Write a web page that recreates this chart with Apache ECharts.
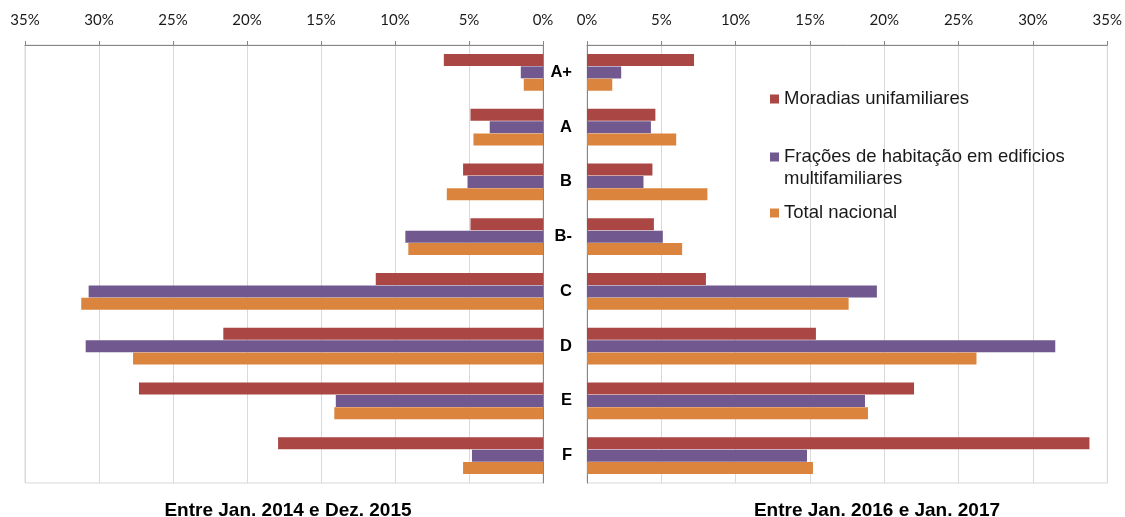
<!DOCTYPE html>
<html>
<head>
<meta charset="utf-8">
<script src="https://cdn.jsdelivr.net/npm/echarts@6/dist/echarts.min.js"></script>
<style>
  html, body { margin: 0; padding: 0; background: #ffffff; }
  #chart { width: 1125px; height: 517px; }
</style>
</head>
<body>
<div id="chart"></div>
<script>
// Energy classes (categories, top to bottom)
const categories = ['A+', 'A', 'B', 'B-', 'C', 'D', 'E', 'F'];

// Tick labels of the percentage axes
const tickValues = [0, 5, 10, 15, 20, 25, 30, 35];

// Series names
const seriesNames = [
  'Moradias unifamiliares',
  'Frações de habitação em edificios multifamiliares',
  'Total nacional'
];

// Period titles
const periodLeft = 'Entre Jan. 2014 e Dez. 2015';
const periodRight = 'Entre Jan. 2016 e Jan. 2017';

// Shares (%) between Jan. 2014 and Dec. 2015
const moradias2014 = [6.7, 4.9, 5.4, 4.9, 11.3, 21.6, 27.3, 17.9];
const fracoes2014  = [1.5, 3.6, 5.1, 9.3, 30.7, 30.9, 14.0, 4.8];
const total2014    = [1.3, 4.7, 6.5, 9.1, 31.2, 27.7, 14.1, 5.4];

// Shares (%) between Jan. 2016 and Jan. 2017
const moradias2016 = [7.2, 4.6, 4.4, 4.5, 8.0, 15.4, 22.0, 33.8];
const fracoes2016  = [2.3, 4.3, 3.8, 5.1, 19.5, 31.5, 18.7, 14.8];
const total2016    = [1.7, 6.0, 8.1, 6.4, 17.6, 26.2, 18.9, 15.2];

const colors = ['#AA4643', '#71588F', '#DB843D'];
const axisGray = '#868686';
const gridGray = '#D9D9D9';
const sansFont = '"Liberation Sans", Arial, sans-serif';

const chart = echarts.init(document.getElementById('chart'), null, { renderer: 'canvas' });

function valueAxis(gridIndex, inverse) {
  return {
    type: 'value',
    gridIndex: gridIndex,
    position: 'top',
    inverse: inverse,
    min: tickValues[0],
    max: tickValues[tickValues.length - 1],
    interval: 5,
    axisLine: { show: true, lineStyle: { color: axisGray, width: 1 } },
    axisTick: { show: true, length: 4, lineStyle: { color: axisGray } },
    splitLine: { show: true, lineStyle: { color: gridGray, width: 1 } },
    axisLabel: {
      formatter: '{value}%',
      color: '#1a1a1a',
      fontSize: 15,
      fontFamily: 'Lato, "Liberation Sans", sans-serif',
      margin: 17
    }
  };
}

function categoryAxis(gridIndex, position, showLabels) {
  return {
    type: 'category',
    gridIndex: gridIndex,
    position: position,
    inverse: true,
    data: categories,
    axisLine: { show: true, lineStyle: { color: axisGray, width: 1 } },
    axisTick: { show: false },
    splitLine: { show: false },
    axisLabel: {
      show: showLabels,
      color: '#000000',
      fontSize: 16.5,
      fontWeight: 'bold',
      fontFamily: sansFont,
      margin: 15
    }
  };
}

function barSeries(name, data, idx, gridIdx) {
  return {
    type: 'bar',
    name: name,
    data: data,
    xAxisIndex: gridIdx,
    yAxisIndex: gridIdx,
    barWidth: 12,
    barGap: '3%',
    itemStyle: { color: colors[idx] },
    emphasis: { disabled: true },
    animation: false
  };
}

const legendText = {
  color: '#1a1a1a',
  fontSize: 18.5,
  lineHeight: 22,
  fontFamily: sansFont
};

chart.setOption({
  backgroundColor: '#ffffff',
  animation: false,
  grid: [
    { left: 25, top: 45, width: 518, height: 438, show: true, borderColor: gridGray, borderWidth: 1 },
    { left: 587, top: 45, width: 522, height: 438, show: true, borderColor: gridGray, borderWidth: 1 }
  ],
  xAxis: [valueAxis(0, true), valueAxis(1, false)],
  yAxis: [categoryAxis(0, 'right', false), categoryAxis(1, 'left', true)],
  legend: [
    {
      data: [seriesNames[0]],
      left: 770, top: 88, padding: 0,
      itemWidth: 9, itemHeight: 9,
      icon: 'rect',
      textStyle: legendText,
      selectedMode: false
    },
    {
      data: [seriesNames[1]],
      left: 770, top: 146, padding: 0,
      // square aligned with the first text line
      icon: 'path://M0,0H10V10H0Z M0,34.4H0.01V34.41H0Z',
      itemWidth: 9, itemHeight: 31,
      formatter: function (name) { return name.replace(' multifamiliares', '\nmultifamiliares'); },
      textStyle: legendText,
      selectedMode: false
    },
    {
      data: [seriesNames[2]],
      left: 770, top: 202, padding: 0,
      itemWidth: 9, itemHeight: 9,
      icon: 'rect',
      textStyle: legendText,
      selectedMode: false
    }
  ],
  graphic: [
    {
      type: 'text', x: 288, y: 511,
      style: {
        text: periodLeft, textAlign: 'center', textVerticalAlign: 'middle',
        fontSize: 19, fontWeight: 'bold', fill: '#000000', fontFamily: sansFont
      }
    },
    {
      type: 'text', x: 877, y: 511,
      style: {
        text: periodRight, textAlign: 'center', textVerticalAlign: 'middle',
        fontSize: 19, fontWeight: 'bold', fill: '#000000', fontFamily: sansFont
      }
    }
  ],
  series: [
    barSeries(seriesNames[0], moradias2014, 0, 0),
    barSeries(seriesNames[1], fracoes2014, 1, 0),
    barSeries(seriesNames[2], total2014, 2, 0),
    barSeries(seriesNames[0], moradias2016, 0, 1),
    barSeries(seriesNames[1], fracoes2016, 1, 1),
    barSeries(seriesNames[2], total2016, 2, 1)
  ]
});
</script>
</body>
</html>
